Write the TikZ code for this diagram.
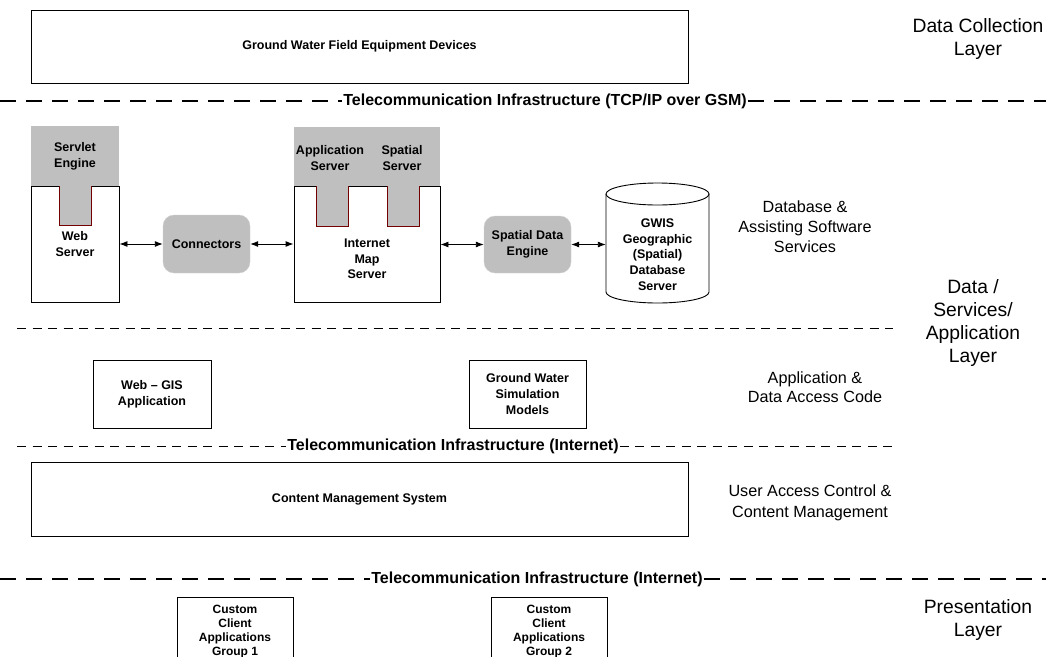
\documentclass[tikz,border=0pt]{standalone}
\usepackage{fontspec}
\setmainfont{Liberation Sans}
\usetikzlibrary{arrows.meta}

\begin{document}
\begin{tikzpicture}[x=1pt, y=-1pt,
  box/.style={draw, line width=0.9pt, inner sep=0pt, align=center, font=\fontsize{12.5}{15.6}\selectfont\bfseries},
  head/.style={fill=black!25, inner sep=0pt, align=center, font=\fontsize{12.5}{15.6}\selectfont\bfseries},
  soft/.style={fill=black!25, draw=black!18, rounded corners=11pt, inner sep=0pt, align=center, font=\fontsize{12.5}{15.6}\selectfont\bfseries},
  tab/.style={draw=red!45!black, line width=0.9pt},
  arr/.style={{Latex[length=8pt,width=6pt]}-{Latex[length=8pt,width=6pt]}, line width=0.9pt},
  thickdash/.style={line width=2pt, dash pattern=on 16pt off 10pt},
  thindash/.style={line width=0.9pt, dash pattern=on 9pt off 6.5pt},
  tel/.style={fill=white, inner xsep=1pt, inner ysep=2pt, font=\fontsize{16}{18}\selectfont\bfseries},
  layer/.style={align=center, font=\fontsize{19.3}{23}\selectfont},
  sub/.style={align=center, font=\fontsize{16.2}{20}\selectfont}]
  \clip (0,0) rectangle (1046,656);

  % data collection
  \node[box, minimum width=657pt, minimum height=73pt] (field) at (359.5,46.5) {Ground Water Field Equipment Devices};
  \node[layer] (lcoll) at (978,39.5) {Data Collection\\Layer};
  \node[tel] (gsm) at (545,101) {Telecommunication Infrastructure (TCP/IP over GSM)};
  \coordinate (gsmL) at (0,101);
  \coordinate (gsmR) at (1046,101);
  \draw[thickdash] (gsmL) -- (gsm.west);
  \draw[thickdash] (gsm.east) -- (gsmR);

  % web server with servlet engine
  \node[head, minimum width=88pt, minimum height=60pt] (servlet) at (75,156) {Servlet\\Engine};
  \node[box, minimum width=88pt, minimum height=116pt] (web) at (75,244) {Web\\Server};
  \fill[black!25] (59,185) rectangle (91,225);
  \draw[tab] (59,186) |- (91,225) -- (91,186);

  \node[soft, minimum width=87pt, minimum height=58pt] (conn) at (206.5,244) {Connectors};

  % internet map server
  \node[head, minimum width=146pt, minimum height=59pt] (maphead) at (367,156.5) {};
  \node[head] (appsrv) at (330,158) {Application\\Server};
  \node[head] (spsrv) at (402,158) {Spatial\\Server};
  \node[box, minimum width=146pt, minimum height=116pt] (map) at (367,244) {};
  \node[font=\fontsize{12.5}{15.6}\selectfont\bfseries, align=center] (maptxt) at (367,259) {Internet\\Map\\Server};
  \fill[black!25] (316,185) rectangle (348,226);
  \draw[tab] (316,186) |- (348,226) -- (348,186);
  \fill[black!25] (387,185) rectangle (419,226);
  \draw[tab] (387,186) |- (419,226) -- (419,186);

  \node[soft, minimum width=87pt, minimum height=57pt] (sde) at (527.5,244.5) {Spatial Data\\Engine};

  % database cylinder
  \node[inner sep=0pt, minimum width=103pt, align=center, font=\fontsize{12.5}{15.8}\selectfont\bfseries] (db) at (657.5,254.5) {GWIS\\Geographic\\(Spatial)\\Database\\Server};
  \draw[line width=0.9pt] (606,194) -- (606,292) arc[start angle=180, end angle=0, x radius=51.5, y radius=11] -- (709,194);
  \draw[line width=0.9pt] (657.5,194) ellipse[x radius=51.5, y radius=11];

  \draw[arr] (web.east |- conn.west) -- (conn.west);
  \draw[arr] (conn.east) -- (map.west |- conn.east);
  \draw[arr] (map.east |- sde.west) -- (sde.west);
  \draw[arr] (sde.east) -- (db.west |- sde.east);

  \node[sub] (ldb) at (805,227) {Database \&\\Assisting Software\\Services};
  \node[layer] (lapp) at (973,323.5) {Data /\\Services/\\Application\\Layer};

  % application code
  \coordinate (d1L) at (17,328);
  \coordinate (d1R) at (893,328);
  \draw[thindash] (d1L) -- (d1R);
  \node[box, minimum width=118pt, minimum height=68pt] (wgis) at (152,394) {Web -- GIS\\Application};
  \node[box, minimum width=117pt, minimum height=68pt] (gwsim) at (527.5,394) {Ground Water\\Simulation\\Models};
  \node[sub, font=\fontsize{16.2}{19}\selectfont] (lcode) at (815,387) {Application \&\\Data Access Code};

  \node[tel] (inet1) at (453,446) {Telecommunication Infrastructure (Internet)};
  \coordinate (d2L) at (17,446);
  \coordinate (d2R) at (893,446);
  \draw[thindash] (d2L) -- (inet1.west);
  \draw[thindash] (inet1.east) -- (d2R);

  % content management
  \node[box, minimum width=657pt, minimum height=74pt] (cms) at (359.5,499) {Content Management System};
  \node[sub, font=\fontsize{16.2}{21}\selectfont] (lcms) at (810,503) {User Access Control \&\\Content Management};

  \node[tel] (inet2) at (537,579) {Telecommunication Infrastructure (Internet)};
  \coordinate (d3L) at (0,579);
  \coordinate (d3R) at (1046,579);
  \draw[thickdash] (d3L) -- (inet2.west);
  \draw[thickdash] (inet2.east) -- (d3R);

  % presentation
  \node[box, font=\fontsize{12}{14}\selectfont\bfseries, minimum width=116pt, minimum height=68pt, anchor=north] (grp1) at (235,597) {Custom\\Client\\Applications\\Group 1};
  \node[box, font=\fontsize{12}{14}\selectfont\bfseries, minimum width=116pt, minimum height=68pt, anchor=north] (grp2) at (549,597) {Custom\\Client\\Applications\\Group 2};
  \node[layer] (lpres) at (978,620) {Presentation\\Layer};
\end{tikzpicture}
\end{document}
